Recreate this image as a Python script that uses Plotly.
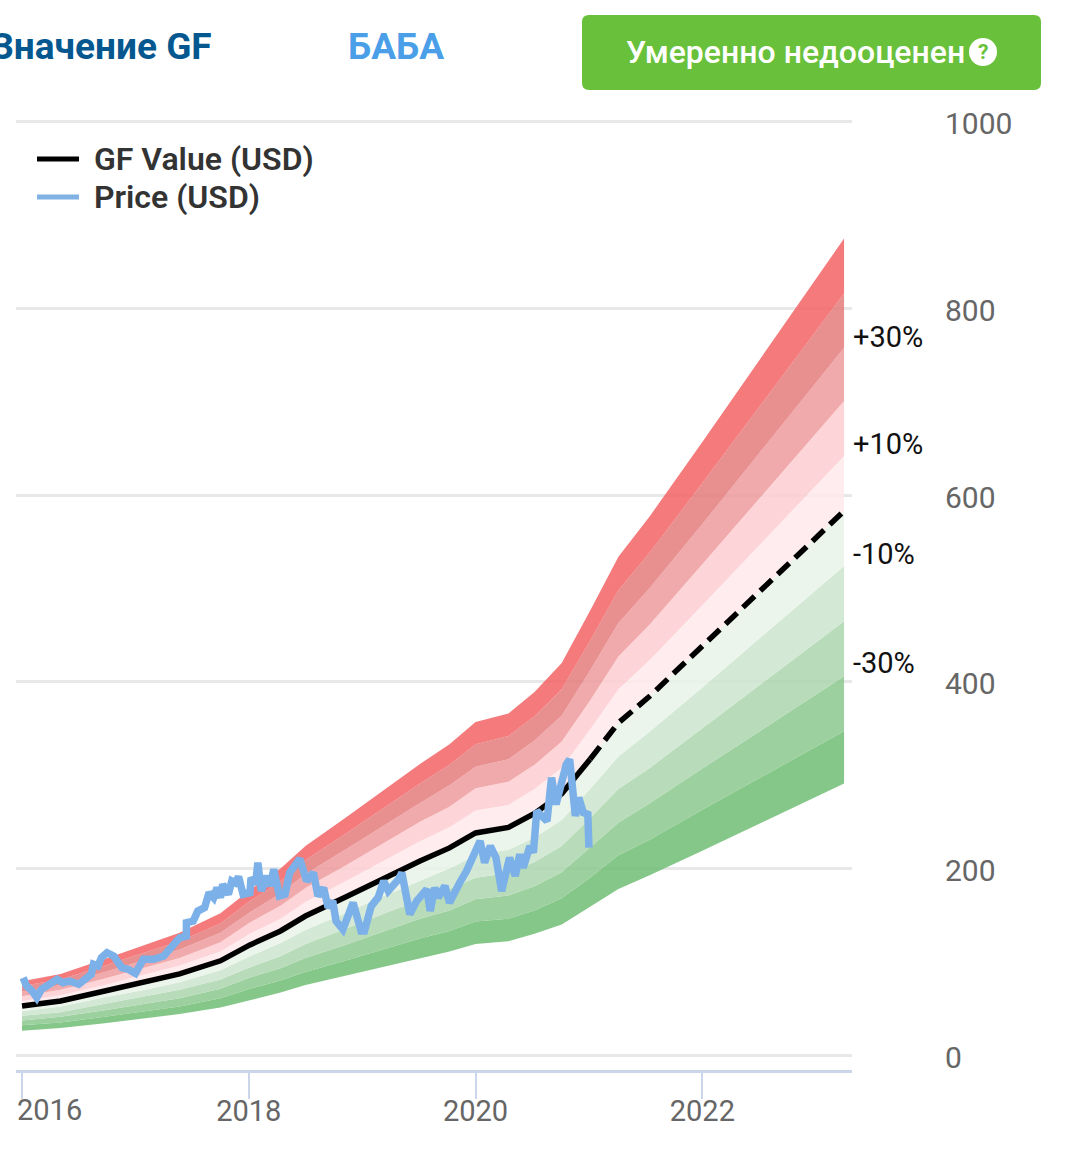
import plotly.graph_objects as go

# ---------- data ----------
band_years = [2016.00,2016.34,2016.73,2017.04,2017.39,2017.75,2018.01,2018.28,2018.50,2018.85,2019.20,
              2019.51,2019.77,2020.00,2020.29,2020.52,2020.76,2021.01,2021.26,2021.54,2022.00,2023.25]
gf_value = [52.5,58,68.6,77,87,101,118,133,149,169,190,208,222,238,244,259,280,317,356,385,438,583]

band_p50 = [79,87,103,116,131,152,177,200,224,254,285,312,333,357,366,389,420,476,534,578,657,875]
band_p40 = [74,81,96,108,122,141,165,186,209,237,266,291,311,333,342,363,392,444,498,539,613,816]
band_p30 = [68,75,89,100,113,131,153,173,194,220,247,270,289,309,317,337,364,412,463,501,569,758]
band_p20 = [63,70,82,92,104,121,142,160,179,203,228,250,266,286,293,311,336,380,427,462,526,701]
band_p10 = [58,64,75,85,96,111,130,146,164,186,209,229,244,262,268,285,308,349,392,424,482,642]
band_m10 = [47,52,62,69,78,91,106,120,134,152,171,187,200,214,220,233,252,285,320,347,394,524]
band_m20 = [42,46,55,62,70,81,94,106,119,135,152,166,178,190,195,207,224,254,285,308,350,465]
band_m30 = [37,41,48,54,61,71,83,93,104,118,133,146,155,167,171,181,196,222,249,270,307,406]
band_m40 = [32,35,41,46,52,61,71,80,89,101,114,125,133,143,146,155,168,190,214,231,263,347]
band_m50 = [26,29,34,39,44,51,59,67,75,85,95,104,111,119,122,130,140,159,178,193,219,291]

price_years = [2016.01,2016.04,2016.09,2016.13,2016.17,2016.25,2016.31,2016.36,2016.42,2016.50,2016.56,2016.61,
               2016.63,2016.67,2016.70,2016.75,2016.81,2016.88,2016.94,2017.00,2017.07,2017.16,2017.25,2017.33,
               2017.39,2017.45,2017.45,2017.51,2017.55,2017.61,2017.65,2017.69,2017.72,2017.75,2017.77,2017.82,
               2017.85,2017.88,2017.91,2017.95,2018.01,2018.02,2018.06,2018.08,2018.11,2018.16,2018.19,2018.22,
               2018.27,2018.32,2018.36,2018.45,2018.51,2018.57,2018.61,2018.66,2018.70,2018.74,2018.77,2018.83,
               2018.89,2018.92,2018.99,2019.02,2019.08,2019.14,2019.19,2019.23,2019.32,2019.35,2019.42,2019.48,
               2019.57,2019.60,2019.64,2019.67,2019.73,2019.77,2019.86,2019.92,2020.04,2020.08,2020.13,2020.18,
               2020.23,2020.30,2020.35,2020.39,2020.42,2020.48,2020.51,2020.54,2020.63,2020.67,2020.71,2020.80,
               2020.83,2020.88,2020.91,2020.95,2020.99,2021.00]
price_usd = [82.9,74.0,68.6,61.5,70.4,77.5,81.1,77.5,79.3,75.8,82.9,86.5,
             97.2,95.4,104.3,109.7,106.1,93.6,91.8,87.6,102.6,102.6,106.1,117.0,
             125.7,127.5,141.8,143.6,154.3,157.9,174.0,168.6,179.3,168.6,182.9,172.2,
             186.5,184.7,191.1,172.2,174.0,190.1,182.9,206.1,175.8,191.8,181.1,199.0,
             170.4,172.2,195.4,210.4,186.5,195.4,170.4,179.3,157.9,165.1,143.6,134.7,
             152.6,163.3,132.9,132.9,159.7,168.7,186.5,175.8,188.3,195.4,150.8,165.1,
             177.6,154.4,179.4,168.7,181.2,163.3,184.7,197.2,229.4,206.2,224.0,211.5,
             175.8,211.5,191.9,215.1,200.8,224.0,216.9,261.5,250.8,297.3,268.7,311.6,
             316.9,256.2,275.8,259.8,258.0,222.2]

x_ticks = [2016, 2018, 2020, 2022]
y_ticks = [0, 200, 400, 600, 800, 1000]
band_labels = ["+30%", "+10%", "-10%", "-30%"]
legend_names = ["GF Value (USD)", "Price (USD)"]
GF_COLOR, PRICE_COLOR = "#000000", "#7cb0e8"

# ---------- layout geometry (page pixels) ----------
W, H = 1080, 1163
L, R, T, B = 16, 852, 120, 1070
def px(x): return (x - L) / (R - L)
def py(y): return (B - y) / (B - T)

fig = go.Figure()

stack = [
    (band_m40, "rgba(111,189,115,0.85)"),
    (band_m30, "rgba(140,200,142,0.85)"),
    (band_m20, "rgba(171,214,174,0.85)"),
    (band_m10, "rgba(204,229,206,0.85)"),
    (gf_value, "rgba(233,243,233,0.85)"),
    (band_p10, "rgba(254,233,235,0.85)"),
    (band_p20, "rgba(253,206,210,0.85)"),
    (band_p30, "rgba(239,155,157,0.85)"),
    (band_p40, "rgba(228,123,124,0.85)"),
    (band_p50, "rgba(242,99,101,0.85)"),
]
fig.add_trace(go.Scatter(x=band_years, y=band_m50, mode="lines", line=dict(width=0),
                         showlegend=False, hoverinfo="skip"))
for vals, col in stack:
    fig.add_trace(go.Scatter(x=band_years, y=vals, mode="lines", line=dict(width=0),
                             fill="tonexty", fillcolor=col, showlegend=False, hoverinfo="skip"))

SPLIT = band_years.index(2021.01)
fig.add_trace(go.Scatter(x=band_years[:SPLIT + 1], y=gf_value[:SPLIT + 1], mode="lines",
                         name=legend_names[0], showlegend=False, line=dict(color=GF_COLOR, width=5.5)))
fig.add_trace(go.Scatter(x=band_years[SPLIT:], y=gf_value[SPLIT:], mode="lines", showlegend=False,
                         line=dict(color=GF_COLOR, width=5.5, dash="16px,8px")))
fig.add_trace(go.Scatter(x=price_years, y=price_usd, mode="lines", name=legend_names[1], showlegend=False,
                         line=dict(color=PRICE_COLOR, width=7.5)))

def rounded(x0, y0, x1, y1, r):
    a, b, c, d = px(x0), px(x1), py(y0), py(y1)
    rx, ry = r / (R - L), r / (B - T)
    return (f"M{a+rx},{c} L{b-rx},{c} Q{b},{c} {b},{c-ry} L{b},{d+ry} Q{b},{d} {b-rx},{d} "
            f"L{a+rx},{d} Q{a},{d} {a},{d+ry} L{a},{c-ry} Q{a},{c} {a+rx},{c} Z")

shapes = [
    dict(type="path", xref="paper", yref="paper", path=rounded(582, 15, 1041, 90, 7),
         fillcolor="#69c13b", line=dict(width=0), layer="above"),
    dict(type="circle", xref="paper", yref="paper", x0=px(969), x1=px(997), y0=py(66), y1=py(38),
         fillcolor="#ffffff", line=dict(width=0), layer="above"),
    dict(type="line", xref="paper", yref="paper", x0=px(37), x1=px(79), y0=py(159), y1=py(159),
         line=dict(color=GF_COLOR, width=5), layer="above"),
    dict(type="line", xref="paper", yref="paper", x0=px(37), x1=px(79), y0=py(197), y1=py(197),
         line=dict(color="#80b2e4", width=5), layer="above"),
]

def text(x, y, s, size, color, anchor="left", family="Roboto", weight=400):
    return dict(xref="paper", yref="paper", x=px(x), y=py(y), text=s, showarrow=False,
                xanchor=anchor, yanchor="middle", align=anchor,
                font=dict(family=family, size=size, color=color, weight=weight),
                borderpad=0, borderwidth=0)

anns = [
    text(212, 46, "Значение GF", 37, "#04588f", "right", weight=700),
    text(348, 46, "БАБА", 37, "#4a9fe8", "left", weight=700),
    text(626, 52, "Умеренно недооценен", 32, "#ffffff", "left", weight=500),
    text(983, 52, "?", 21, "#69c13b", "center", weight=700),
    text(94, 159, legend_names[0], 32, "#333333", weight=600),
    text(94, 197, legend_names[1], 32, "#333333", weight=600),
    # the first year label sits inside the chart edge, right of its tick
    text(17, 1110, str(x_ticks[0]), 29, "#666666"),
]
for lbl, yy in zip(band_labels, [337, 444, 554, 663]):
    anns.append(text(853, yy, lbl, 29, "#111111"))

x_labels = [""] + [str(v) for v in x_ticks[1:]]

fig.update_layout(
    width=W, height=H, autosize=False,
    margin=dict(l=L, r=W - R, t=T, b=H - B, pad=0),
    paper_bgcolor="#ffffff", plot_bgcolor="#ffffff",
    font=dict(family="Roboto"),
    shapes=shapes, annotations=anns,
    showlegend=False,
    xaxis=dict(range=[2015.947, 2023.32], tickmode="array", tickvals=x_ticks,
               ticktext=x_labels, showgrid=False, zeroline=False,
               showline=True, linecolor="#ccd6eb", linewidth=3,
               ticks="outside", ticklen=26, tickwidth=2, tickcolor="#ccd6eb",
               tickfont=dict(family="Roboto", size=29, color="#666666"),
               ticklabelstandoff=-13),
    yaxis=dict(range=[-16, 1002], side="right", tickmode="array", tickvals=y_ticks,
               ticktext=[str(v) for v in y_ticks], showgrid=True, gridcolor="#e8e8e8", gridwidth=3,
               zeroline=False, showline=False, ticks="",
               tickfont=dict(family="Roboto", size=30, color="#666666"),
               ticklabelstandoff=92, ticklabelshift=2),
)

fig.write_html("out.html", config=dict(displayModeBar=False),
               post_script="document.body.style.margin='0';document.documentElement.style.overflow='hidden';")
